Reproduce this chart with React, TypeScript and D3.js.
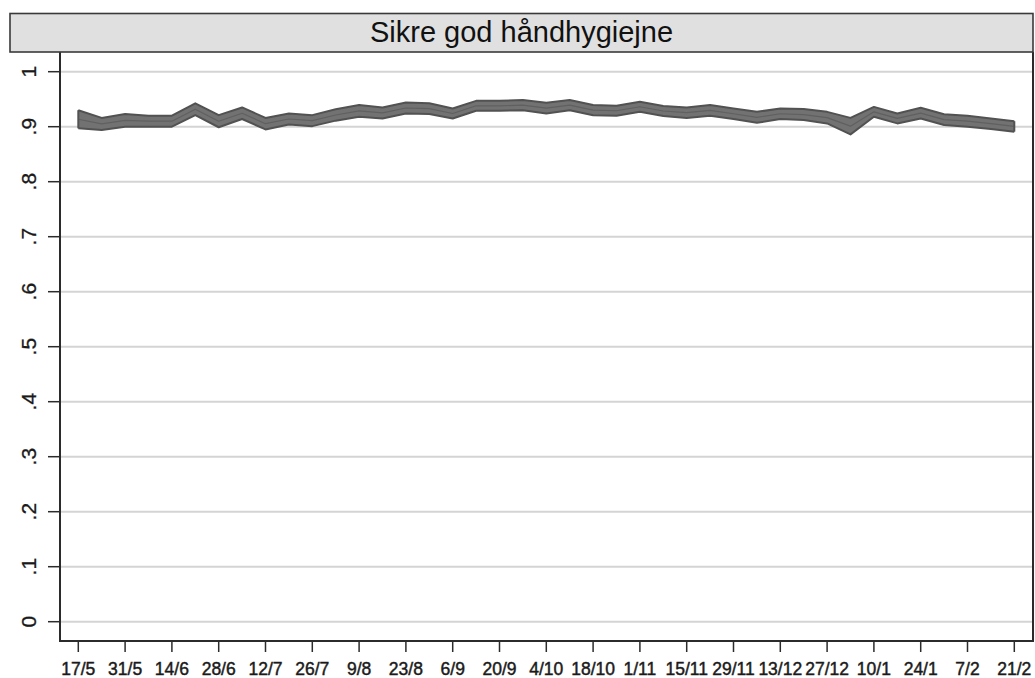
import React from "react";
import * as d3 from "d3";

const title = "Sikre god håndhygiejne";

// weekly observations 17/5 .. 21/2 (41 weeks)
const weekIndex = d3.range(41);

const ciHigh = [
  0.930, 0.916, 0.923, 0.920, 0.920, 0.9425, 0.921, 0.935, 0.916, 0.924,
  0.921, 0.9316, 0.9395, 0.935, 0.944, 0.9425, 0.933, 0.947, 0.947, 0.9485,
  0.9437, 0.9485, 0.9395, 0.938, 0.9455, 0.9376, 0.935, 0.9395, 0.933, 0.927,
  0.933, 0.932, 0.927, 0.916, 0.936, 0.924, 0.9345, 0.9225, 0.920, 0.915,
  0.910,
];

const ciLow = [
  0.897, 0.894, 0.900, 0.900, 0.900, 0.921, 0.899, 0.914, 0.895, 0.904,
  0.901, 0.911, 0.918, 0.915, 0.924, 0.923, 0.915, 0.929, 0.929, 0.930,
  0.924, 0.930, 0.921, 0.920, 0.927, 0.9195, 0.916, 0.920, 0.914, 0.907,
  0.914, 0.912, 0.906, 0.886, 0.918, 0.906, 0.915, 0.903, 0.900, 0.896,
  0.891,
];

const meanVal = ciHigh.map((h, i) => (h + ciLow[i]) / 2);

const xTickIdx = d3.range(0, 41, 2);
const xTickLabels = [
  "17/5", "31/5", "14/6", "28/6", "12/7", "26/7", "9/8", "23/8", "6/9", "20/9",
  "4/10", "18/10", "1/11", "15/11", "29/11", "13/12", "27/12", "10/1", "24/1", "7/2", "21/2",
];
const yTicks = [0, 0.1, 0.2, 0.3, 0.4, 0.5, 0.6, 0.7, 0.8, 0.9, 1];
const yTickLabels = ["0", ".1", ".2", ".3", ".4", ".5", ".6", ".7", ".8", ".9", "1"];

const W = 1035;
const H = 678;
const plotL = 60;
const plotR = 1033;
const plotT = 52;
const plotB = 641;

export default function App() {
  const x = d3.scaleLinear().domain([0, 40]).range([78.3, 1014.3]);
  const y = d3.scaleLinear().domain([0, 1]).range([621.7, 71.7]);

  const area = d3
    .area<number>()
    .x((i) => x(i))
    .y0((i) => y(ciLow[i]))
    .y1((i) => y(ciHigh[i]));
  const hiLine = d3.line<number>().x((i) => x(i)).y((i) => y(ciHigh[i]));
  const loLine = d3.line<number>().x((i) => x(i)).y((i) => y(ciLow[i]));
  const midLine = d3.line<number>().x((i) => x(i)).y((i) => y(meanVal[i]));

  const font = "Arial, 'Liberation Sans', Helvetica, sans-serif";

  return (
    <svg
      width={W}
      height={H}
      style={{ position: "absolute", left: 0, top: 0, background: "#fff" }}
      fontFamily={font}
    >
      <rect x={0} y={0} width={W} height={H} fill="#ffffff" />
      {/* gridlines */}
      {yTicks.map((t) => (
        <line
          key={"g" + t}
          x1={plotL}
          x2={plotR}
          y1={y(t)}
          y2={y(t)}
          stroke="#d4d4d4"
          strokeWidth={2}
        />
      ))}
      {/* band */}
      <path d={area(weekIndex) || ""} fill="#727272" />
      <path d={hiLine(weekIndex) || ""} fill="none" stroke="#525252" strokeWidth={2} strokeLinejoin="round" />
      <path d={loLine(weekIndex) || ""} fill="none" stroke="#525252" strokeWidth={2} strokeLinejoin="round" />
      <path d={midLine(weekIndex) || ""} fill="none" stroke="#606060" strokeWidth={1.2} strokeLinejoin="round" />
      <line x1={x(0)} x2={x(0)} y1={y(ciHigh[0])} y2={y(ciLow[0])} stroke="#525252" strokeWidth={2} />
      <line x1={x(40)} x2={x(40)} y1={y(ciHigh[40])} y2={y(ciLow[40])} stroke="#525252" strokeWidth={2} />

      {/* frame */}
      <line x1={plotL} x2={plotL} y1={plotT} y2={plotB + 1} stroke="#2b2b2b" strokeWidth={2} />
      <line x1={plotL - 1} x2={plotR + 1} y1={plotB} y2={plotB} stroke="#2b2b2b" strokeWidth={2} />
      <line x1={plotR} x2={plotR} y1={plotT} y2={plotB + 1} stroke="#2b2b2b" strokeWidth={2} />

      {/* y ticks */}
      {yTicks.map((t, i) => (
        <g key={"y" + t}>
          <line x1={48} x2={plotL} y1={y(t)} y2={y(t)} stroke="#2b2b2b" strokeWidth={1.5} />
          <text
            transform={`translate(36,${y(t)}) rotate(-90)`}
            textAnchor="middle"
            fontSize={21}
            fill="#1a1a1a"
            stroke="#1a1a1a"
            strokeWidth={0.3}
          >
            {yTickLabels[i]}
          </text>
        </g>
      ))}

      {/* x ticks */}
      {xTickIdx.map((idx, i) => (
        <g key={"x" + idx}>
          <line x1={x(idx)} x2={x(idx)} y1={plotB} y2={652} stroke="#2b2b2b" strokeWidth={1.5} />
          <text
            x={x(idx)}
            y={675}
            textAnchor="middle"
            fontSize={17.5}
            fill="#1a1a1a"
            stroke="#1a1a1a"
            strokeWidth={0.45}
          >
            {xTickLabels[i]}
          </text>
        </g>
      ))}

      {/* title box */}
      <rect x={10} y={13.5} width={1023} height={38.5} fill="#e0e0e0" stroke="#3a3a3a" strokeWidth={1.6} />
      <text x={521.5} y={42.3} textAnchor="middle" fontSize={29} fill="#111">
        {title}
      </text>
    </svg>
  );
}
